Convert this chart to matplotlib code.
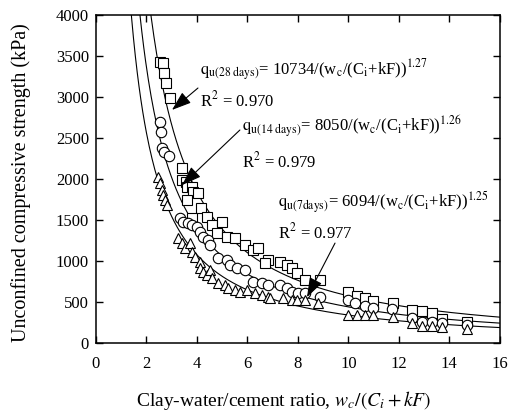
import numpy as np
import matplotlib
matplotlib.use("Agg")
import matplotlib.pyplot as plt

plt.rcParams['font.family'] = ['Liberation Serif', 'DejaVu Serif']
plt.rcParams['mathtext.fontset'] = 'stix'

# 28 days (squares)
x28 = [2.53, 2.65, 2.69, 2.77, 2.93, 3.41, 3.41, 3.56, 3.60, 3.80, 3.84, 4.04,
       3.60, 4.16, 3.80, 4.40, 4.59, 4.99, 4.79, 5.19, 5.50, 5.90, 6.22, 6.42,
       6.81, 6.69, 7.29, 7.56, 7.76, 7.96, 8.28, 8.87, 9.98, 10.34, 10.65,
       10.97, 11.76, 12.51, 12.91, 13.31, 13.70, 14.69]
q28 = [3428, 3415, 3293, 3171, 2988, 2134, 1988, 1964, 1903, 1903, 1842, 1830,
       1745, 1647, 1525, 1537, 1440, 1476, 1342, 1293, 1281, 1196, 1135, 1159,
       1013, 976, 988, 952, 915, 854, 769, 769, 622, 573, 549,
       512, 488, 403, 390, 366, 293, 260]

# 14 days (circles)
x14 = [2.53, 2.57, 2.61, 2.69, 2.89, 3.33, 3.45, 3.64, 3.80, 4.00, 4.12, 4.24,
       4.44, 4.51, 4.83, 5.19, 5.31, 5.58, 5.90, 6.22, 6.57, 6.81, 7.29, 7.56,
       7.76, 8.00, 8.28, 8.87, 9.98, 10.26, 10.65, 10.97, 11.72, 12.51, 12.91,
       13.31, 13.70, 14.69]
q14 = [2695, 2573, 2378, 2329, 2280, 1525, 1476, 1464, 1440, 1415, 1354, 1293,
       1257, 1196, 1037, 1013, 952, 915, 891, 744, 732, 708, 708, 671,
       622, 610, 610, 561, 525, 488, 451, 427, 415, 305, 256,
       256, 250, 220]

# 7 days (triangles)
x7 = [2.46, 2.53, 2.61, 2.65, 2.73, 2.81, 3.25, 3.41, 3.52, 3.72, 3.80, 3.92,
      4.12, 4.12, 4.24, 4.40, 4.51, 4.59, 4.83, 5.11, 5.23, 5.50, 5.70, 5.98,
      6.30, 6.57, 6.81, 6.89, 7.41, 7.76, 7.96, 8.28, 8.79, 9.98, 10.34, 10.65,
      10.97, 11.76, 12.51, 12.91, 13.31, 13.70, 14.69]
q7 = [2025, 1952, 1866, 1806, 1745, 1684, 1281, 1220, 1159, 1220, 1110, 1049,
      988, 915, 866, 830, 891, 793, 732, 708, 671, 647, 622, 647,
      610, 586, 561, 549, 549, 525, 525, 525, 488, 342, 342, 342,
      342, 317, 244, 207, 207, 195, 175]

# fitted curves q = A / x^b
fits = {'28': (10734, 1.27), '14': (8050, 1.26), '7': (6094, 1.25)}

fig = plt.figure(figsize=(5.09, 4.11), dpi=100)
ax = fig.add_axes([0.1886, 0.165, 0.7934, 0.7985])

xf = np.linspace(1.3, 16, 400)
for key, (A, b) in fits.items():
    ax.plot(xf, A / xf ** b, color='k', lw=0.8)

mk = dict(linestyle='none', markerfacecolor='white', markeredgecolor='k',
          markeredgewidth=0.8, markersize=7.5)
ax.plot(x28, q28, marker='s', **mk)
ax.plot(x14, q14, marker='o', **mk)
ax.plot(x7, q7, marker='^', **mk)

arr = dict(arrowstyle='-|>,head_length=1.0,head_width=0.35', color='k',
           lw=0.8, mutation_scale=12, shrinkA=0, shrinkB=0)

ax.text(4.12, 3330, r'$\mathrm{q}_{\mathrm{u(28\ days)}}$= 10734/(w$_\mathrm{c}$/(C$_\mathrm{i}$+kF))$^{1.27}$',
        fontsize=12, va='center', ha='left')
ax.text(4.12, 2965, r'R$^2$ = 0.970', fontsize=12, va='center', ha='left')
ax.annotate('', xy=(3.01, 2843), xytext=(4.04, 3110), arrowprops=arr)

ax.text(5.80, 2640, r'$\mathrm{q}_{\mathrm{u(14\ days)}}$= 8050/(w$_\mathrm{c}$/(C$_\mathrm{i}$+kF))$^{1.26}$',
        fontsize=12, va='center', ha='left')
ax.text(5.80, 2220, r'R$^2$ = 0.979', fontsize=12, va='center', ha='left')
ax.annotate('', xy=(3.41, 1927), xytext=(5.70, 2598), arrowprops=arr)

ax.text(7.21, 1720, r'$\mathrm{q}_{\mathrm{u(7days)}}$= 6094/(w$_\mathrm{c}$/(C$_\mathrm{i}$+kF))$^{1.25}$',
        fontsize=12, va='center', ha='left')
ax.text(7.21, 1354, r'R$^2$ = 0.977', fontsize=12, va='center', ha='left')
ax.annotate('', xy=(8.36, 561), xytext=(9.47, 1220), arrowprops=arr)

ax.set_xlim(0, 16)
ax.set_ylim(0, 4000)
ax.set_xticks(range(0, 17, 2))
ax.set_yticks(range(0, 4001, 500))
ax.tick_params(direction='in', top=True, right=True, length=5, width=1,
               labelsize=12, pad=5)
ax.tick_params(axis='x', pad=9)
for s in ax.spines.values():
    s.set_linewidth(1.1)

ax.set_xlabel(r'Clay-water/cement ratio, $w_c/(C_i + kF)$', fontsize=14)
ax.xaxis.set_label_coords(0.465, -0.14)
ax.set_ylabel('Unconfined compressive strength (kPa)', fontsize=14.5)
ax.yaxis.set_label_coords(-0.16, 0.49)

fig.savefig('out.png', dpi=100)
